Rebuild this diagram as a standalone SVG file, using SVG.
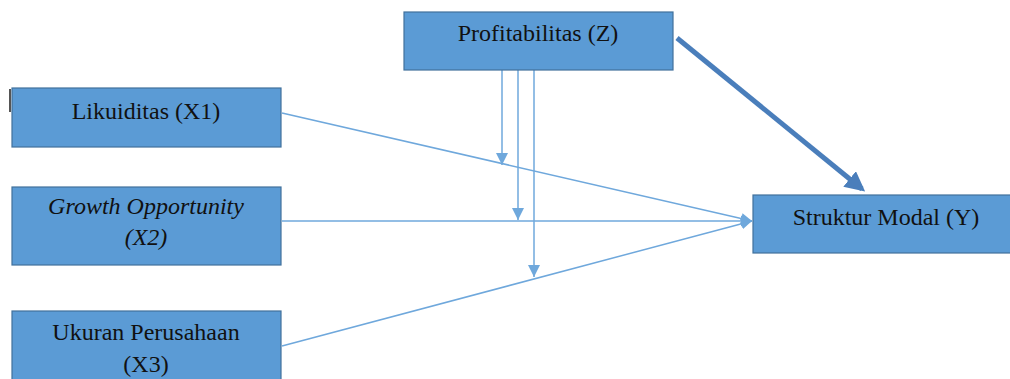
<svg xmlns="http://www.w3.org/2000/svg" width="1010" height="379" viewBox="0 0 1010 379">
<style>
.box{fill:#5b9bd5;stroke:#41719c;stroke-width:1.2}
.t{font-family:"Liberation Serif","Times New Roman",serif;font-size:24px;fill:#111;text-anchor:middle}
.it{font-style:italic}
.ln{stroke:#6fa8dc;stroke-width:1.5;fill:none}
</style>
<defs>
<marker id="ah" viewBox="0 0 10 10" refX="10" refY="5" markerWidth="11" markerHeight="14" markerUnits="userSpaceOnUse" orient="auto">
<path d="M0,0 L10,5 L0,10 z" fill="#6fa8dc"/>
</marker>
<marker id="ahv" viewBox="0 0 10 10" refX="10" refY="5" markerWidth="13" markerHeight="12" markerUnits="userSpaceOnUse" orient="auto">
<path d="M0,0 L10,5 L0,10 z" fill="#6fa8dc"/>
</marker>
<marker id="ahb" viewBox="0 0 10 10" refX="8" refY="5" markerWidth="4" markerHeight="4" orient="auto">
<path d="M0,0 L10,5 L0,10 z" fill="#4a7ebb"/>
</marker>
</defs>
<rect x="9" y="89" width="2" height="23" fill="#555"/>
<g id="connectors">
<line class="ln" x1="282" y1="113" x2="752" y2="221" marker-end="url(#ah)"/>
<line class="ln" x1="282" y1="221" x2="752" y2="221" marker-end="url(#ah)"/>
<line class="ln" x1="282" y1="346" x2="752" y2="221" marker-end="url(#ah)"/>
<line class="ln" x1="502" y1="70" x2="502" y2="165" marker-end="url(#ahv)"/>
<line class="ln" x1="518" y1="70" x2="518" y2="220" marker-end="url(#ahv)"/>
<line class="ln" x1="534" y1="70" x2="534" y2="277" marker-end="url(#ahv)"/>
<line x1="677" y1="38" x2="862" y2="189" stroke="#4a7ebb" stroke-width="5" marker-end="url(#ahb)"/>
</g>
<g id="profitabilitas">
<rect class="box" x="404" y="12" width="269" height="58"/>
<text class="t" x="538" y="41">Profitabilitas (Z)</text>
</g>
<g id="likuiditas">
<rect class="box" x="12" y="88" width="269" height="59"/>
<text class="t" x="146" y="119">Likuiditas (X1)</text>
</g>
<g id="growth">
<rect class="box" x="12" y="187" width="269" height="78"/>
<text class="t it" x="146" y="214">Growth Opportunity</text>
<text class="t it" x="146" y="245">(X2)</text>
</g>
<g id="ukuran">
<rect class="box" x="12" y="311" width="269" height="80"/>
<text class="t" x="146" y="340">Ukuran Perusahaan</text>
<text class="t" x="146" y="372">(X3)</text>
</g>
<g id="struktur">
<rect class="box" x="753" y="195" width="270" height="58"/>
<text class="t" x="886" y="225">Struktur Modal (Y)</text>
</g>
</svg>
